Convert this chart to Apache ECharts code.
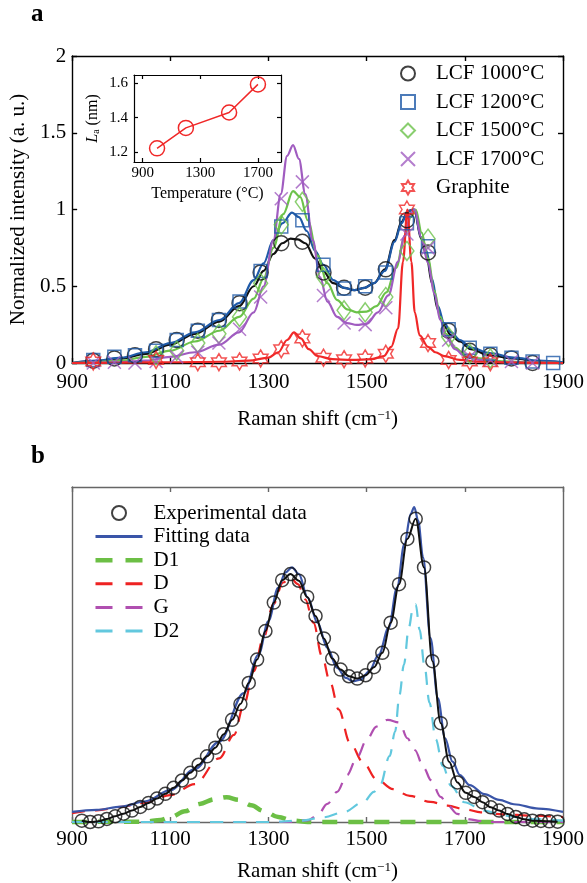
<!DOCTYPE html>
<html>
<head>
<meta charset="utf-8">
<script src="https://cdn.jsdelivr.net/npm/echarts@6/dist/echarts.min.js"></script>
<style>html,body{margin:0;padding:0;background:#fff}#c{width:587px;height:883px}</style>
</head>
<body>
<div id="c"></div>
<script>
// ---------- Panel a: line data [Raman shift, intensity] ----------
const line1000 = [[900,0],[950,0.012],[1000,0.03],[1050,0.06],[1100,0.12],[1150,0.19],[1200,0.27],[1240,0.37],[1270,0.5],[1290,0.6],[1310,0.71],[1328,0.78],[1345,0.81],[1360,0.805],[1375,0.78],[1395,0.68],[1412,0.595],[1432,0.52],[1454,0.49],[1475,0.475],[1496,0.49],[1515,0.52],[1537,0.61],[1557,0.8],[1571,0.92],[1584,0.99],[1597,1.0],[1611,0.81],[1622,0.7],[1633,0.52],[1645,0.35],[1658,0.24],[1672,0.18],[1690,0.14],[1712,0.09],[1750,0.05],[1800,0.03],[1850,0.01],[1900,0]];
const line1200 = [[900,0],[950,0.015],[1000,0.035],[1050,0.07],[1100,0.13],[1150,0.2],[1200,0.28],[1240,0.39],[1270,0.54],[1290,0.65],[1310,0.8],[1328,0.91],[1348,0.98],[1362,0.95],[1378,0.86],[1395,0.73],[1412,0.64],[1432,0.54],[1454,0.49],[1475,0.475],[1496,0.49],[1515,0.52],[1537,0.6],[1557,0.79],[1571,0.91],[1584,0.99],[1597,1.0],[1611,0.82],[1622,0.73],[1633,0.55],[1645,0.37],[1658,0.26],[1672,0.2],[1690,0.15],[1712,0.1],[1750,0.065],[1800,0.035],[1850,0.015],[1900,0.005]];
const line1500 = [[900,0],[950,0.005],[1000,0.015],[1050,0.04],[1100,0.08],[1150,0.14],[1200,0.21],[1240,0.3],[1270,0.42],[1290,0.55],[1310,0.75],[1330,0.97],[1350,1.12],[1365,1.08],[1380,0.93],[1400,0.7],[1420,0.52],[1440,0.41],[1460,0.35],[1480,0.33],[1500,0.335],[1520,0.37],[1540,0.46],[1560,0.62],[1577,0.82],[1590,0.95],[1600,1.0],[1612,0.85],[1625,0.68],[1638,0.47],[1650,0.3],[1662,0.19],[1680,0.1],[1700,0.055],[1730,0.03],[1780,0.01],[1850,0.003],[1900,0]];
const line1700 = [[900,0],[1000,0.005],[1050,0.015],[1100,0.04],[1150,0.07],[1200,0.12],[1240,0.2],[1270,0.33],[1290,0.5],[1310,0.8],[1325,1.1],[1338,1.35],[1350,1.42],[1362,1.33],[1375,1.1],[1390,0.8],[1405,0.56],[1420,0.4],[1440,0.3],[1460,0.26],[1480,0.248],[1500,0.255],[1523,0.33],[1544,0.44],[1564,0.66],[1577,0.83],[1591,0.98],[1598,1.0],[1611,0.82],[1625,0.65],[1638,0.45],[1650,0.28],[1662,0.17],[1680,0.09],[1700,0.045],[1730,0.02],[1780,0.005],[1900,0]];
const lineGraphite = [[900,0],[1000,0.003],[1100,0.005],[1200,0.008],[1260,0.015],[1300,0.035],[1320,0.07],[1338,0.15],[1352,0.2],[1366,0.16],[1382,0.09],[1400,0.045],[1430,0.025],[1470,0.02],[1510,0.025],[1535,0.045],[1550,0.105],[1564,0.226],[1574,0.66],[1583,1.0],[1591,0.66],[1598,0.33],[1608,0.18],[1625,0.105],[1640,0.07],[1658,0.045],[1690,0.02],[1730,0.008],[1800,0.003],[1900,0]];

// ---------- Panel a: marker data ----------
const markX = [943,986,1028,1071,1113,1156,1199,1241,1284,1326,1369,1412,1454,1497,1539,1582,1625,1667,1710,1752,1795,1838,1880];
const mark1000 = [0.015,0.03,0.05,0.09,0.15,0.21,0.28,0.39,0.59,0.78,0.79,0.59,0.49,0.49,0.61,0.93,0.72,0.21,0.08,0.05,0.03,0.0];
const mark1200 = [0.02,0.04,0.05,0.08,0.15,0.21,0.28,0.40,0.60,0.89,0.93,0.64,0.485,0.5,0.59,0.91,0.76,0.22,0.10,0.06,0.035,0.01,0.0];
const mark1500 = [-0.02,-0.02,-0.03,0.05,0.08,0.13,0.19,0.3,0.52,0.90,1.05,0.56,0.343,0.33,0.43,0.73,0.81,0.17,0.06,0.03,-0.015];
const mark1700 = [0.0,0.005,0.0,0.01,0.04,0.07,0.13,0.22,0.43,1.07,1.18,0.44,0.26,0.25,0.36,0.84,0.75,0.15,0.04,0.02,0.01,0.0];
const markGraphite = [[943,0.01],[1071,0.02],[1156,0.005],[1199,0.005],[1241,0.01],[1284,0.03],[1326,0.09],[1369,0.16],[1412,0.035],[1454,0.025],[1497,0.03],[1539,0.06],[1582,1.0],[1625,0.13],[1667,0.02],[1710,0.01],[1752,0.005]];

// ---------- Inset: La vs temperature ----------
const insetTemp = [1000,1200,1500,1700];
const insetLa = [1.22,1.34,1.43,1.595];

// ---------- Panel b ----------
const expX = [920,937,954,971,988,1005,1022,1039,1056,1073,1090,1107,1124,1141,1158,1175,1192,1209,1226,1243,1260,1277,1294,1311,1328,1345,1362,1379,1396,1413,1430,1447,1464,1481,1498,1515,1532,1549,1566,1583,1600,1617,1634,1651,1668,1685,1702,1719,1736,1753,1770,1787,1804,1821,1838,1855,1872,1889];
const expY = [0.004,0.0,0.002,0.009,0.017,0.025,0.034,0.045,0.057,0.07,0.084,0.102,0.124,0.147,0.171,0.196,0.222,0.262,0.305,0.352,0.415,0.485,0.57,0.655,0.722,0.74,0.72,0.672,0.615,0.548,0.488,0.455,0.435,0.428,0.438,0.462,0.505,0.595,0.71,0.845,0.905,0.76,0.48,0.295,0.18,0.118,0.087,0.075,0.059,0.044,0.034,0.024,0.015,0.008,0.004,0.003,0.002,0.001];
const fitData = [[900,0.03],[950,0.036],[1000,0.046],[1050,0.062],[1100,0.095],[1150,0.158],[1200,0.24],[1250,0.385],[1280,0.5],[1300,0.6],[1320,0.7],[1335,0.745],[1348,0.76],[1362,0.74],[1380,0.67],[1400,0.595],[1420,0.52],[1440,0.46],[1458,0.43],[1472,0.42],[1488,0.425],[1505,0.45],[1525,0.5],[1545,0.58],[1562,0.7],[1577,0.83],[1590,0.92],[1597,0.94],[1605,0.9],[1615,0.79],[1630,0.55],[1645,0.37],[1660,0.25],[1675,0.18],[1690,0.14],[1710,0.11],[1740,0.083],[1770,0.066],[1800,0.053],[1850,0.04],[1900,0.03]];
const d1Data = [[900,0],[1050,0.001],[1080,0.006],[1100,0.014],[1130,0.032],[1160,0.054],[1190,0.068],[1215,0.074],[1240,0.066],[1265,0.05],[1290,0.033],[1320,0.015],[1350,0.004],[1380,0],[1900,0]];
const dData = [[900,0.026],[950,0.035],[1000,0.045],[1050,0.058],[1100,0.08],[1150,0.113],[1200,0.19],[1230,0.26],[1250,0.35],[1270,0.45],[1290,0.55],[1310,0.65],[1330,0.715],[1345,0.73],[1360,0.71],[1375,0.665],[1392,0.594],[1409,0.495],[1426,0.416],[1443,0.336],[1466,0.237],[1493,0.178],[1520,0.128],[1554,0.098],[1588,0.078],[1630,0.06],[1665,0.049],[1700,0.038],[1733,0.029],[1780,0.023],[1833,0.019],[1900,0.015]];
const gData = [[900,0],[1340,0],[1380,0.005],[1400,0.02],[1420,0.054],[1440,0.09],[1460,0.14],[1481,0.195],[1500,0.245],[1520,0.285],[1543,0.305],[1567,0.297],[1583,0.25],[1598,0.215],[1617,0.16],[1631,0.125],[1651,0.075],[1665,0.05],[1685,0.024],[1710,0.008],[1730,0.003],[1760,0],[1900,0]];
const d2Data = [[900,0],[1300,0],[1365,0.004],[1412,0.014],[1453,0.029],[1493,0.059],[1515,0.09],[1527,0.108],[1547,0.197],[1558,0.27],[1567,0.38],[1576,0.47],[1586,0.58],[1594,0.635],[1600,0.65],[1608,0.574],[1618,0.465],[1628,0.356],[1641,0.247],[1655,0.168],[1672,0.108],[1699,0.059],[1739,0.034],[1780,0.019],[1833,0.009],[1900,0.004]];

const xTicks = [900,1100,1300,1500,1700,1900];
const insetXTicks = [900,1300,1700];
const insetYTicks = [1.2,1.4,1.6];

const FONT = 'Liberation Serif';
const C = {k:'#111111', b:'#1f5aa8', g:'#6cc24a', p:'#a05cc0', r:'#f02828'};
const COL_D1 = '#6cbf45', COL_D = '#ee2222', COL_G = '#b04fb0', COL_D2 = '#62c8de', COL_FIT = '#3a55a8';
const starPath = 'path://M50,0L64.43,25L93.3,25L78.87,50L93.3,75L64.43,75L50,100L35.57,75L6.7,75L21.13,50L6.7,25L35.57,25Z';
const xPath = 'path://M0,0L20,20M20,0L0,20';
const dashIcon = 'path://M0,0H17V3H0Z M30,0H47V3H30Z';
const dashIconThick = 'path://M0,0H17V4.5H0Z M30,0H47V4.5H30Z';
const solidIcon = 'path://M0,0H47V3H0Z';

function pairs(xs, ys){ return ys.map((y,i)=>[xs[i], y]); }
function lineS(data, color, xi, yi, extra){
  return Object.assign({type:'line', data, xAxisIndex:xi, yAxisIndex:yi, showSymbol:false, symbol:'none', smooth:0.35, smoothMonotone:'x',
    lineStyle:{color, width:2.2}, itemStyle:{color}, silent:true, z:2}, extra||{});
}
function markS(name, data, color, symbol, size){
  return {type:'scatter', name, data, xAxisIndex:0, yAxisIndex:0, symbol, symbolSize:size, symbolKeepAspect:true,
    itemStyle:{color:'transparent', borderColor:color, borderWidth:1.5}, z:3};
}
const axisBlack = {color:'#000', width:1.4};
const axisGray = {color:'#666', width:1.4};
const lab = {fontFamily:FONT, color:'#000', fontSize:21};
const plain = v => String(v);

const option = {
  animation:false,
  backgroundColor:'#fff',
  title:[
    {text:'a', left:26, top:-3, textStyle:{fontFamily:FONT, fontWeight:'bold', fontSize:25, color:'#000'}},
    {text:'b', left:26, top:439, textStyle:{fontFamily:FONT, fontWeight:'bold', fontSize:25, color:'#000'}}
  ],
  grid:[
    {left:72, top:56, width:493, height:307},
    {left:72, top:487, width:494, height:336},
    {left:134, top:75, width:147, height:87}
  ],
  legend:[
    {orient:'vertical', left:395, top:58, itemWidth:14, itemHeight:14, itemGap:7.5,
     textStyle:{fontFamily:FONT, fontSize:21, color:'#000', lineHeight:21, padding:[0,0,0,16]},
     data:['LCF 1000°C','LCF 1200°C','LCF 1500°C','LCF 1700°C','Graphite']},
    {orient:'vertical', left:90.5, top:497.5, itemWidth:47, itemHeight:14, itemGap:2.6,
     textStyle:{fontFamily:FONT, fontSize:21, color:'#000', lineHeight:21, padding:[0,0,0,6]},
     data:[
       {name:'Experimental data'},
       {name:'Fitting data', icon:solidIcon, itemStyle:{color:COL_FIT, borderWidth:0}},
       {name:'D1', icon:dashIconThick, itemStyle:{color:COL_D1, borderWidth:0}},
       {name:'D', icon:dashIcon, itemStyle:{color:COL_D, borderWidth:0}},
       {name:'G', icon:dashIcon, itemStyle:{color:COL_G, borderWidth:0}},
       {name:'D2', icon:dashIcon, itemStyle:{color:COL_D2, borderWidth:0}}
     ]}
  ],
  xAxis:[
    {gridIndex:0, type:'value', min:900, max:1900, position:'bottom',
     axisLine:{show:true, onZero:false, lineStyle:axisBlack},
     axisTick:{show:true, inside:true, length:5, customValues:xTicks, lineStyle:axisBlack},
     axisLabel:Object.assign({customValues:xTicks, margin:9, formatter:plain}, lab), splitLine:{show:false},
     name:'Raman shift (cm{sup|−1})', nameLocation:'middle', nameGap:46,
     nameTextStyle:Object.assign({rich:{sup:{fontFamily:FONT, fontSize:13, color:'#000', verticalAlign:'top', lineHeight:12}}}, lab)},
    {gridIndex:0, type:'value', min:900, max:1900, position:'top',
     axisLine:{show:true, onZero:false, lineStyle:axisBlack},
     axisTick:{show:true, inside:true, length:5, customValues:xTicks, lineStyle:axisBlack},
     axisLabel:{show:false}, splitLine:{show:false}},
    {gridIndex:1, type:'value', min:900, max:1900, position:'bottom',
     axisLine:{show:true, onZero:false, lineStyle:axisGray},
     axisTick:{show:true, inside:true, length:5, customValues:xTicks, lineStyle:axisGray},
     axisLabel:Object.assign({customValues:xTicks, margin:7, formatter:plain}, lab), splitLine:{show:false},
     name:'Raman shift (cm{sup|−1})', nameLocation:'middle', nameGap:39,
     nameTextStyle:Object.assign({rich:{sup:{fontFamily:FONT, fontSize:13, color:'#000', verticalAlign:'top', lineHeight:12}}}, lab)},
    {gridIndex:1, type:'value', min:900, max:1900, position:'top',
     axisLine:{show:true, onZero:false, lineStyle:axisGray},
     axisTick:{show:true, inside:true, length:5, customValues:xTicks, lineStyle:axisGray},
     axisLabel:{show:false}, splitLine:{show:false}},
    {gridIndex:2, type:'value', min:840, max:1860, position:'bottom',
     axisLine:{show:true, onZero:false, lineStyle:{color:'#000', width:1.2}},
     axisTick:{show:true, inside:true, length:4, customValues:insetXTicks, lineStyle:{color:'#000', width:1.2}},
     axisLabel:{customValues:insetXTicks, margin:4, fontFamily:FONT, fontSize:15, color:'#000', formatter:plain}, splitLine:{show:false},
     name:'Temperature (°C)', nameLocation:'middle', nameGap:24,
     nameTextStyle:{fontFamily:FONT, fontSize:16, color:'#000'}},
    {gridIndex:2, type:'value', min:840, max:1860, position:'top',
     axisLine:{show:true, onZero:false, lineStyle:{color:'#000', width:1.2}},
     axisTick:{show:true, inside:true, length:4, customValues:insetXTicks, lineStyle:{color:'#000', width:1.2}},
     axisLabel:{show:false}, splitLine:{show:false}}
  ],
  yAxis:[
    {gridIndex:0, type:'value', min:0, max:2, interval:0.5, position:'left',
     axisLine:{show:true, onZero:false, lineStyle:axisBlack},
     axisTick:{show:true, inside:true, length:5, lineStyle:axisBlack},
     axisLabel:Object.assign({margin:6, formatter:plain}, lab), splitLine:{show:false},
     name:'Normalized intensity (a. u.)', nameLocation:'middle', nameGap:43, nameRotate:90,
     nameTextStyle:lab},
    {gridIndex:0, type:'value', min:0, max:2, interval:0.5, position:'right',
     axisLine:{show:true, onZero:false, lineStyle:axisBlack},
     axisTick:{show:true, inside:true, length:5, lineStyle:axisBlack},
     axisLabel:{show:false}, splitLine:{show:false}},
    {gridIndex:1, type:'value', min:0, max:1, position:'left',
     axisLine:{show:true, onZero:false, lineStyle:axisGray},
     axisTick:{show:false}, axisLabel:{show:false}, splitLine:{show:false}},
    {gridIndex:1, type:'value', min:0, max:1, position:'right',
     axisLine:{show:true, onZero:false, lineStyle:axisGray},
     axisTick:{show:false}, axisLabel:{show:false}, splitLine:{show:false}},
    {gridIndex:2, type:'value', min:1.14, max:1.65, position:'left',
     axisLine:{show:true, onZero:false, lineStyle:{color:'#000', width:1.2}},
     axisTick:{show:true, inside:true, length:4, customValues:insetYTicks, lineStyle:{color:'#000', width:1.2}},
     axisLabel:{customValues:insetYTicks, margin:6, fontFamily:FONT, fontSize:15, color:'#000', formatter:v=>Number(v).toFixed(1)},
     splitLine:{show:false},
     name:'{it|L}{sub|a} (nm)', nameLocation:'middle', nameGap:33, nameRotate:90,
     nameTextStyle:{fontFamily:FONT, fontSize:16, color:'#000',
       rich:{it:{fontFamily:FONT, fontSize:16, fontStyle:'italic', color:'#000'},
             sub:{fontFamily:FONT, fontSize:10, color:'#000', verticalAlign:'bottom', lineHeight:10}}}},
    {gridIndex:2, type:'value', min:1.14, max:1.65, position:'right',
     axisLine:{show:true, onZero:false, lineStyle:{color:'#000', width:1.2}},
     axisTick:{show:true, inside:true, length:4, customValues:insetYTicks, lineStyle:{color:'#000', width:1.2}},
     axisLabel:{show:false}, splitLine:{show:false}}
  ],
  series:[
    lineS(line1000, C.k, 0, 0), markS('LCF 1000°C', pairs(markX, mark1000), C.k, 'circle', 15),
    lineS(line1200, C.b, 0, 0), markS('LCF 1200°C', pairs(markX, mark1200), C.b, 'rect', 13),
    lineS(line1500, C.g, 0, 0), markS('LCF 1500°C', pairs(markX, mark1500), C.g, 'diamond', [14,19]),
    lineS(line1700, C.p, 0, 0), markS('LCF 1700°C', pairs(markX, mark1700), C.p, xPath, 13),
    lineS(lineGraphite, C.r, 0, 0), markS('Graphite', markGraphite, C.r, starPath, 17),
    {type:'line', data:pairs(insetTemp, insetLa), xAxisIndex:4, yAxisIndex:4, symbol:'circle', symbolSize:15,
     lineStyle:{color:C.r, width:1.5}, itemStyle:{color:'transparent', borderColor:C.r, borderWidth:1.5}, z:3},
    // panel b
    lineS(d1Data, COL_D1, 2, 2, {name:'D1', clip:false, lineStyle:{color:COL_D1, width:4.5, type:[15,11]}}),
    lineS(dData, COL_D, 2, 2, {name:'D', clip:false, lineStyle:{color:COL_D, width:2.2, type:[13,10]}}),
    lineS(gData, COL_G, 2, 2, {name:'G', clip:false, lineStyle:{color:COL_G, width:2.2, type:[13,10]}}),
    lineS(d2Data, COL_D2, 2, 2, {name:'D2', clip:false, lineStyle:{color:COL_D2, width:2.2, type:[13,10]}}),
    lineS(fitData, COL_FIT, 2, 2, {name:'Fitting data', clip:false, lineStyle:{color:COL_FIT, width:2.2}, z:3}),
    lineS(pairs(expX, expY), C.k, 2, 2, {clip:false, lineStyle:{color:C.k, width:2}, z:4}),
    {type:'scatter', name:'Experimental data', data:pairs(expX, expY), xAxisIndex:2, yAxisIndex:2, symbol:'circle', symbolSize:13,
     itemStyle:{color:'transparent', borderColor:C.k, borderWidth:1.5}, z:5}
  ]
};
const chart = echarts.init(document.getElementById('c'), null, {renderer:'canvas'});
chart.setOption(option);
</script>
</body>
</html>
